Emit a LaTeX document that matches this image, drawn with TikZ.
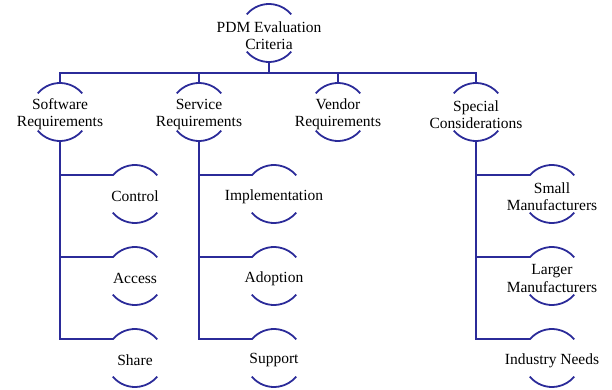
\documentclass[tikz,border=0pt]{standalone}
\usepackage{fontspec}
\setmainfont{Liberation Serif}
\usetikzlibrary{calc}
\definecolor{critblue}{RGB}{43,43,153}

\begin{document}
\begin{tikzpicture}[x=1pt, y=-1pt,
  crit/.style={align=center, font=\fontsize{15.5}{17.3}\selectfont, inner sep=0pt, yshift=-2.5pt},
  brk/.style={draw=critblue, line width=1.8pt},
  conn/.style={draw=critblue, line width=1.8pt},
]
\useasboundingbox (0,0) rectangle (612,390);

% Root
\node[crit] (root) at (269,33) {PDM Evaluation\\Criteria};

% Criteria groups
\node[crit] (soft) at (60,112) {Software\\Requirements};
\node[crit] (serv) at (199,112) {Service\\Requirements};
\node[crit] (vend) at (338,112) {Vendor\\Requirements};
\node[crit] (spec) at (476,112) {Special\\Considerations};

% Software items
\node[crit] (ctrl) at (135,194) {Control};
\node[crit] (acc) at (135,276) {Access};
\node[crit] (share) at (135,358) {Share};

% Service items
\node[crit] (impl) at (274,194) {Implementation};
\node[crit] (adopt) at (274,276) {Adoption};
\node[crit] (supp) at (274,358) {Support};

% Special items
\node[crit] (small) at (552,194) {Small\\Manufacturers};
\node[crit] (large) at (552,276) {Larger\\Manufacturers};
\node[crit] (indus) at (552,358) {Industry Needs};

% Arcs above and below each item
\foreach \n in {root,soft,serv,vend,spec,ctrl,acc,share,impl,adopt,supp,small,large,indus} {
  \coordinate (\n-c) at ([yshift=2.5pt]\n.center);
  \draw[brk] ([shift={(140:29pt)}]\n-c) arc[start angle=140, end angle=40, radius=29pt];
  \draw[brk] ([shift={(220:29pt)}]\n-c) arc[start angle=220, end angle=320, radius=29pt];
  \coordinate (\n-top) at ([yshift=29pt]\n-c);
  \coordinate (\n-bot) at ([yshift=-29pt]\n-c);
  \coordinate (\n-in) at ([shift={(140:29pt)}]\n-c);
}

% Top level
\draw[conn] (root-bot) -- ++(0,11);
\draw[conn] (soft-top) -- ++(0,-10) -| (spec-top);
\draw[conn] (serv-top) -- ++(0,-10);
\draw[conn] (vend-top) -- ++(0,-10);

% Branches
\draw[conn] (soft-bot) |- (share-in);
\draw[conn] (soft-bot |- ctrl-in) -- (ctrl-in);
\draw[conn] (soft-bot |- acc-in) -- (acc-in);
\draw[conn] (serv-bot) |- (supp-in);
\draw[conn] (serv-bot |- impl-in) -- (impl-in);
\draw[conn] (serv-bot |- adopt-in) -- (adopt-in);
\draw[conn] (spec-bot) |- (indus-in);
\draw[conn] (spec-bot |- small-in) -- (small-in);
\draw[conn] (spec-bot |- large-in) -- (large-in);

\end{tikzpicture}
\end{document}
